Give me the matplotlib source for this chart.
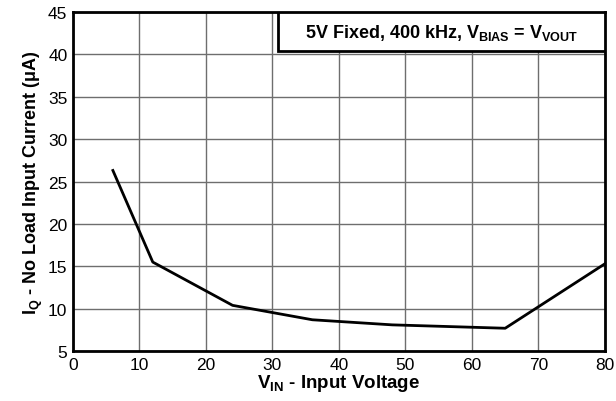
import matplotlib
matplotlib.use('Agg')
import matplotlib.pyplot as plt
from matplotlib.patches import Rectangle

plt.rcParams['font.family'] = ['Liberation Sans', 'DejaVu Sans']
plt.rcParams['mathtext.fontset'] = 'custom'
plt.rcParams['mathtext.bf'] = 'Liberation Sans:bold'
plt.rcParams['mathtext.rm'] = 'Liberation Sans'

# data
vin = [6, 12, 24, 36, 48, 65, 80]
iq = [26.3, 15.5, 10.4, 8.7, 8.1, 7.7, 15.3]
xticks = [0, 10, 20, 30, 40, 50, 60, 70, 80]
yticks = [5, 10, 15, 20, 25, 30, 35, 40, 45]

fig = plt.figure(figsize=(6.16, 4.02), dpi=100)
ax = fig.add_axes([0.1185, 0.124, 0.8635, 0.844])

ax.plot(vin, iq, color='black', linewidth=2)

ax.set_xlim(0, 80)
ax.set_ylim(5, 45)
ax.set_xticks(xticks)
ax.set_yticks(yticks)
ax.tick_params(length=0, labelsize=12.5, pad=4)
ax.grid(True, color='#6e6e6e', linewidth=1)
ax.set_axisbelow(True)
for s in ax.spines.values():
    s.set_linewidth(2)

ax.set_xlabel(r'V$_{\mathbf{IN}}$ - Input Voltage', fontsize=13.5, fontweight='bold', labelpad=0)
ax.set_ylabel(r'I$_{\mathbf{Q}}$ - No Load Input Current ($\mathbf{\mu}$A)', fontsize=13,
              fontweight='bold', labelpad=2)

# boxed annotation in the top-right corner
box = Rectangle((0.386, 0.885), 0.614, 0.115, transform=ax.transAxes,
                facecolor='white', edgecolor='black', linewidth=2, zorder=3)
ax.add_patch(box)
ax.text(0.693, 0.942, r'5V Fixed, 400 kHz, V$_{\mathbf{BIAS}}$ = V$_{\mathbf{VOUT}}$',
        transform=ax.transAxes, ha='center', va='center', fontsize=13,
        fontweight='bold', zorder=4)

plt.savefig('out.png', dpi=100)
